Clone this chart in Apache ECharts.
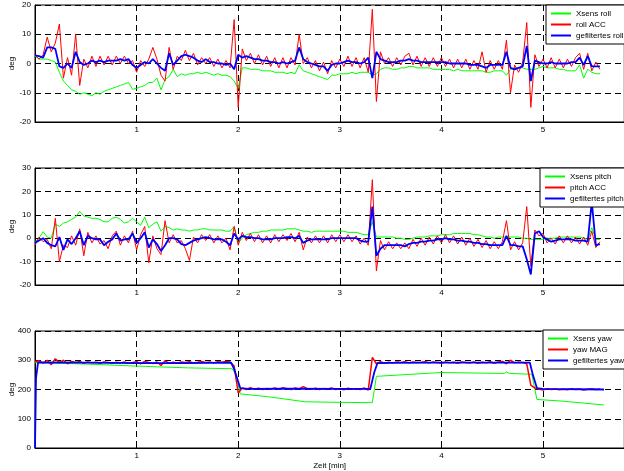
<!DOCTYPE html>
<html><head><meta charset="utf-8">
<script src="https://cdn.jsdelivr.net/npm/echarts@6/dist/echarts.min.js"></script>
<style>html,body{margin:0;padding:0;background:#fff}#c{width:624px;height:471px}</style>
</head><body><div id="c"></div>
<script>
// sample step (minutes) for the sampled series
const tStep = 0.04;
const xTickLabels = ['1','2','3','4','5'];

// ---- roll panel ----
const rollXsens = [
 2.5, 1.5, 1.5, 1.5, 1, 0.5, -3, -6, -7.5, -9,
 -9.5, -10.5, -10, -10.5, -11, -10, -10.5, -9.5, -9, -8.5,
 -8, -7.5, -7, -6.5, -8.8, -8.5, -8, -7.5, -6.5, -6.5,
 -5, -9, -5.5, -4.5, -2, -4.5, -3.5, -4, -3.5, -3.5,
 -3, -3.5, -3, -3.5, -4, -3.5, -4, -4, -4.5, -6,
 -8.5, -1.5, -1.5, -2, -2, -2, -2.5, -2.5, -2.5, -3,
 -3, -3, -3.5, -3, -3.5, -0.5, -2.5, -3, -3.5, -4,
 -4.5, -5, -5.5, -4, -4, -3.5, -3.5, -3.5, -3, -3.5,
 -3, -3, -3, -4, -3.5, -2, -1.5, -1.5, -2, -2,
 -1.5, -1.5, -1, -1, -1.5, -1.5, -1.5, -1.5, -2, -2,
 -2, -2, -2, -2.5, -2, -2.5, -2.5, -2.5, -2.5, -2.5,
 -2.5, -3, -3, -2.5, -2.5, -2.5, -4, -2, -1.5, -1.5,
 -1.5, -2, -2, -2, -1.5, -1, -1.5, -1.5, -1.5, -2,
 -2, -2.5, -2.5, -2.5, -0.5, -5, -2, -3, -3.5, -3.5];
const rollAcc = [
 3, 1.5, 3, 9, 4, 7, 13.5, -5, 2, -4,
 10, -7.5, 1.5, -1.5, 2.5, -1, 2.5, -0.5, 2.5, -0.5,
 2.5, 0, 2.5, 0, 1, -3, 1, -1, 1.5, 5.5,
 1.5, -4, -6, 5.5, -2, 2.5, 1, 4.5, 1, 3.5,
 -0.5, 2, 0, 2, -1, 1.5, -1.5, 1, -1.5, 15,
 -15, 5, 1, 3.5, 0, 3, -0.5, 2.5, -1, 2,
 -1.5, 2, -1.5, 2, -0.5, 10, 0, 2, -1.5, 1,
 -2.5, 0.5, -3.5, 1, -1.5, 1.5, -1, 2.5, -1, 2,
 -1.5, 2, -3, 18.5, -13, 4, 0, 2, -1, 2,
 -0.5, 2.5, 3.5, -0.5, 2.5, -1, 2, -1, 2, -1,
 2, -1, 1.5, -1.5, 1.5, -1.5, 1.5, -2, 1, -2,
 4, -3, 1, -2, 1, -2, 8, -10, -0.5, -3,
 0.5, 14, -15, 3, -1, 1.5, -1.5, 2, -1.5, 1.5,
 -1.5, 1.5, -1, 2, 3.5, -2, 3.5, -2.5, 0.5, -2];
const rollFilt = [
 2.8, 2.5, 2, 5.5, 5.5, 5, -1, -1.5, 0, -1.5,
 4, 0.5, -0.5, 0, 1, 0.5, 1, 0.5, 1, 1,
 1, 1.5, 1, 1.5, -0.5, -1.5, -0.5, 0.5, 0, 1.5,
 0, -1.5, -2.5, 3.5, -0.5, 1, 2.5, 3, 2.5, 2,
 1, 0.5, 1.5, 0.5, 0.5, 0, 0, -0.5, 0, -2,
 3, 2, 2.5, 2, 1.5, 1.5, 1, 1, 0.5, 0.5,
 0, 0.5, 0, 0.5, 1, 5.5, 1.5, 0.5, 0, -0.5,
 -1, -1, -2.5, -0.5, 0, 0, 0.5, 1, 0.5, 0.5,
 0, 0.5, 2, -5, 4, 1.5, 1, 0.5, 0.5, 0.5,
 1, 1, 1.5, 1, 1, 0.5, 0.5, 0.5, 0.5, 0.5,
 0.5, 0.5, 0, 0, 0, 0, 0, -0.5, -0.5, -0.5,
 -1, -1.5, -0.5, -0.5, -0.5, -0.5, 4, -1.5, -2, -1.5,
 -1, 6, -6, 1, 0.5, 0, 0, 0.5, 0, 0,
 0, 0, 0.5, 0.5, 2, -0.5, 2.5, -1, -1, -1];

// ---- pitch panel ----
const pitchXsens = [
 -1.5, 0, 2.8, 0.5, 0, 6, 5, 6.5, 7, 8,
 9, 11.5, 9.5, 9, 8.5, 8.5, 8, 7, 7, 8.5,
 9, 8, 6.5, 7, 8.5, 7, 5.5, 9, 4.5, 6,
 7, 3, 5, 4.5, 3.5, 4, 3.5, 3.5, 3, 3.5,
 3.5, 4, 4, 3.5, 3.5, 3.5, 3.5, 3, 3, 5,
 -2, 0, 1.5, 2, 2.5, 2.5, 3, 3, 3.5, 3.5,
 3.5, 3.5, 4, 4, 4, 3.5, 3, 3, 2.5, 3,
 3, 3, 3, 3, 3, 3, 3, 2.5, 2.5, 2.5,
 2, 1.5, 1.5, 7, 0.5, 0.5, 0.5, 0.5, 0.5, 0,
 0, -0.5, -0.5, 0, 0.5, 0.5, 0.5, 1, 1, 1,
 1.5, 1.5, 1.5, 2, 2, 2, 2, 2, 1.5, 1.5,
 1, 0.5, 0.5, 0, 0.5, 0.5, 0.5, 0.5, 0.5, 0.5,
 0, 0, -0.5, -0.5, -0.5, -0.5, 0, 0, 0, 0.5,
 0.5, 0.5, 0.5, 0.5, 0.5, 0, -0.5, 4.5, -0.5, -0.5];
const pitchAcc = [
 -3, 0.5, -1.5, -0.5, -4.5, 8.5, -10, -3, -4, 1,
 -3, 4, -7.5, 2.5, -2, 1, -2.5, -1, -4.5, 1,
 3, -3, 1, -2, 3, -5, 1.5, 5, -10.5, 1,
 -4.5, -7, 7.5, -2, 1.5, -2, -1, -4.5, -9.5, 0.5,
 -2, 1.5, -1, 1.5, -2, 1, -2, 0, -5, 5,
 -3, 2.5, -1, 2, -1.5, 1.5, -2, 1, -2, 1.5,
 -1.5, 1.5, -1, 2, -1.5, 2.5, -5, 0.5, -2, 1,
 -2, 1, -2, 1.5, -1.5, 1.5, -1.5, 1.5, -1.5, 1,
 -2.5, 0, -3, 25, -14, -1, -5, -1.5, -4.5, -2,
 -4.5, -2, -4.5, -0.5, -3.5, 0, -3, 0.5, -2.5, 1,
 -2, 1.5, -2, 1, -2.5, 0.5, -3, 0, -3.5, -0.5,
 -4, -1, -4.5, -1.5, -4.5, -1.5, 7.5, -5, -1.5, -5,
 -2, 13.5, -12, 3.5, 1, 2, -2, 0, -2.5, 1,
 -2, 1, -2, 0.5, -2.5, 0.5, -3, 3, -4, -1.5];
const pitchFilt = [
 -2, -1, 0, -2, -3, -3.5, 0.5, -5, -0.5, -2.5,
 0, 3, -3, 1, 0, -0.5, -0.5, -3, -1.5, -0.5,
 2, -1, -0.5, -0.5, 2, -2, 0, 2.5, -4, -0.5,
 -2.5, -5.5, -3, 0, 0, -0.5, -2.5, -3, -2, -1,
 -0.5, 0, 0.5, 0, -0.5, -0.5, -0.5, -1.5, -3, 2,
 -0.5, 1, 0.5, 0.5, 0, 0, -0.5, -0.5, -0.5, 0,
 0, 0, 0.5, 0.5, 0, 1, -2, -1, -0.5, -0.5,
 -0.5, -0.5, -0.5, 0, 0, 0, 0, 0, 0, 0,
 -1, -1.5, -1.5, 13.5, -7.5, -4.5, -3, -3, -3, -3,
 -3, -3.5, -2.5, -2, -2, -1.5, -1.5, -1, -1, -0.5,
 -0.5, 0, -0.5, -0.5, -1, -1, -1.5, -1.5, -2, -2,
 -2.5, -2.5, -3, -3, -3, -3, 1, -3, -3, -3.5,
 -3.5, -9, -15.5, 2, 3, 0.5, -0.5, -1.5, -1, -0.5,
 -0.5, -0.5, -0.5, -1, -1, -1, -1.5, 15.5, -3, -2.5];

// ---- yaw panel ----
const yawXsensT = [0, 0.5, 1.0, 1.5, 1.94, 1.98, 2.02, 2.3, 2.66, 3.0, 3.32, 3.34, 3.36, 3.7, 4.0, 4.4, 4.62, 4.64, 4.67, 4.89, 4.92, 4.94, 5.2, 5.6];
const yawXsensV = [292, 287, 280, 274, 271, 250, 185, 175, 158, 156, 155, 200, 245, 252, 258, 256, 255, 260, 255, 252, 200, 166, 160, 147];
const yawMag = [
 295, 298, 290, 300, 285, 305, 292, 300, 288, 296,
 292, 295, 290, 294, 291, 293, 290, 294, 292, 290,
 293, 291, 294, 290, 292, 295, 288, 296, 292, 289,
 294, 282, 298, 290, 293, 291, 294, 292, 295, 291,
 293, 296, 292, 294, 291, 295, 293, 296, 294, 280,
 188, 205, 200, 206, 201, 204, 200, 203, 202, 205,
 201, 206, 203, 200, 205, 202, 210, 203, 201, 204,
 200, 203, 202, 205, 200, 203, 199, 204, 201, 203,
 200, 205, 198, 310, 288, 295, 290, 293, 291, 294,
 292, 295, 291, 294, 292, 293, 295, 291, 294, 292,
 290, 294, 291, 293, 290, 294, 292, 291, 294, 290,
 293, 291, 295, 290, 294, 296, 288, 300, 291, 293,
 292, 288, 215, 205, 202, 198, 203, 200, 202, 199,
 201, 199, 203, 200, 202, 198, 201, 203, 200, 202];
const yawFiltT = [0, 0.01, 0.03, 0.5, 1.0, 1.5, 1.93, 1.96, 2.02, 2.1, 2.5, 3.0, 3.3, 3.34, 3.37, 3.5, 4.0, 4.5, 4.87, 4.9, 4.94, 5.0, 5.6];
const yawFiltV = [0, 240, 293, 292, 290, 290, 292, 270, 205, 202, 203, 202, 202, 260, 290, 291, 292, 292, 292, 250, 205, 202, 200];

const FONT = '"Liberation Sans", Arial, sans-serif';
function sampled(arr){ return arr.map((v,i)=>[Math.round(i*tStep*100)/100, v]); }
function zip(t,v){ return t.map((x,i)=>[x, v[i]]); }

const tops = [5, 168, 331];
const yCfg = [{min:-20,max:20,interval:10},{min:-20,max:30,interval:10},{min:0,max:400,interval:100}];

const grid = tops.map(t=>({left:35, top:t, width:589.3, height:117, show:true, borderColor:'#000', borderWidth:1,
  backgroundColor:'#fff', containLabel:false, outerBoundsMode:'none'}));
const dash = {show:true, lineStyle:{color:'#000', width:1, type:[6,4]}};
const xAxis = tops.map((t,i)=>({
  type:'value', gridIndex:i, min:0, max:5.8, interval:1,
  axisLine:{show:true, onZero:false, lineStyle:{color:'#000', width:1}},
  axisTick:{show:true, inside:true, length:4, lineStyle:{color:'#000'}},
  axisLabel:{fontSize:8, fontFamily:FONT, color:'#000', margin:4, showMinLabel:false, showMaxLabel:false,
    formatter: v => { const k = Math.round(v); return (k>=1 && k<=5) ? xTickLabels[k-1] : ''; }},
  splitLine:dash,
  name: i===2 ? 'Zeit [min]' : '', nameLocation:'middle', nameGap:14, nameMoveOverlap:false,
  nameTextStyle:{fontSize:8, fontFamily:FONT, color:'#000'}
}));
const yAxis = yCfg.map((c,i)=>({
  type:'value', gridIndex:i, min:c.min, max:c.max, interval:c.interval,
  axisLine:{show:true, onZero:false, lineStyle:{color:'#000', width:1}},
  axisTick:{show:true, inside:true, length:4, lineStyle:{color:'#000'}},
  axisLabel:{fontSize:8, fontFamily:FONT, color:'#000', margin:4},
  splitLine:dash,
  name:'deg', nameLocation:'middle', nameGap:19, nameRotate:90, nameMoveOverlap:false,
  nameTextStyle:{fontSize:8, fontFamily:FONT, color:'#000'}
}));

function line(name, data, idx, color, width){
  return {type:'line', name, data, xAxisIndex:idx, yAxisIndex:idx, symbol:'none', showSymbol:false,
    lineStyle:{color, width}, itemStyle:{color}, clip:true, animation:false};
}
const GREEN='#00ff00', RED='#ff0000', BLUE='#0000ff';
const series = [
  line('Xsens roll', sampled(rollXsens), 0, GREEN, 1),
  line('roll ACC', sampled(rollAcc), 0, RED, 1),
  line('gefiltertes roll', sampled(rollFilt), 0, BLUE, 1.8),
  line('Xsens pitch', sampled(pitchXsens), 1, GREEN, 1),
  line('pitch ACC', sampled(pitchAcc), 1, RED, 1),
  line('gefiltertes pitch', sampled(pitchFilt), 1, BLUE, 1.8),
  line('Xsens yaw', zip(yawXsensT, yawXsensV), 2, GREEN, 1),
  line('yaw MAG', sampled(yawMag), 2, RED, 1.5),
  line('gefiltertes yaw', zip(yawFiltT, yawFiltV), 2, BLUE, 1.8)
];
function lg(names, left, top){
  return {data:names.map((n,k)=>({name:n, icon:'rect', itemStyle:{color:[GREEN,RED,BLUE][k]}})),
    left, top, orient:'vertical', icon:'rect', itemWidth:20, itemHeight:2, itemGap:2,
    padding:[4,4,4,5], backgroundColor:'#fff', borderColor:'#000', borderWidth:1, borderRadius:0,
    textStyle:{fontSize:8, lineHeight:9, fontFamily:FONT, color:'#000'}, selectedMode:false};
}
const legend = [
  lg(['Xsens roll','roll ACC','gefiltertes roll'], 546, 5),
  lg(['Xsens pitch','pitch ACC','gefiltertes pitch'], 540, 168),
  lg(['Xsens yaw','yaw MAG','gefiltertes yaw'], 543, 330)
];
const chart = echarts.init(document.getElementById('c'), null, {renderer:'canvas'});
chart.setOption({animation:false, backgroundColor:'#fff', grid, xAxis, yAxis, legend, series});
</script>
</body></html>
